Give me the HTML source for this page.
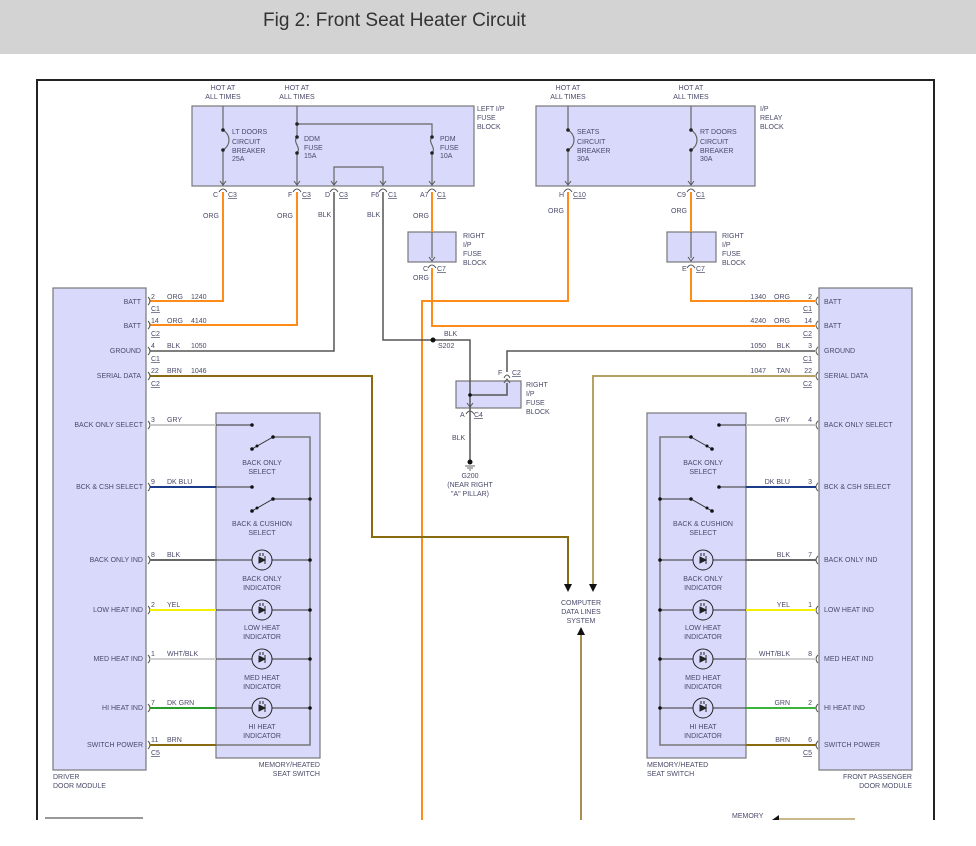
<!DOCTYPE html>
<html><head><meta charset="utf-8"><style>
html,body{margin:0;padding:0;background:#fff;}
svg{display:block}
text{font-family:"Liberation Sans",sans-serif;font-size:7px;fill:#4a4a6a;}
.t{font-family:"Liberation Sans",sans-serif;font-size:19px;fill:#333;}
</style></head><body>
<svg width="976" height="846" viewBox="0 0 976 846" xmlns="http://www.w3.org/2000/svg">
<rect x="0" y="0" width="976" height="54" fill="#d3d3d3"/>
<text x="263" y="26" class="t">Fig 2: Front Seat Heater Circuit</text>
<path d="M37 820 V80 H934 V820" fill="none" stroke="#222" stroke-width="2"/>

<g fill="#d9d9fb" stroke="#777" stroke-width="1.2">
<rect x="192" y="106" width="282" height="80"/>
<rect x="536" y="106" width="219" height="80"/>
<rect x="408" y="232" width="48" height="30"/>
<rect x="667" y="232" width="49" height="30"/>
<rect x="456" y="381" width="65" height="27"/>
<rect x="53" y="288" width="93" height="482"/>
<rect x="819" y="288" width="93" height="482"/>
<rect x="216" y="413" width="104" height="345"/>
<rect x="647" y="413" width="99" height="345"/>
</g>
<line x1="45" y1="818" x2="143" y2="818" stroke="#777" stroke-width="1.5"/>

<!-- hot at texts -->
<g text-anchor="middle">
<text x="223" y="90">HOT AT</text><text x="223" y="99">ALL TIMES</text>
<text x="297" y="90">HOT AT</text><text x="297" y="99">ALL TIMES</text>
<text x="568" y="90">HOT AT</text><text x="568" y="99">ALL TIMES</text>
<text x="691" y="90">HOT AT</text><text x="691" y="99">ALL TIMES</text>
</g>
<text x="477" y="111">LEFT I/P</text><text x="477" y="120">FUSE</text><text x="477" y="129">BLOCK</text>
<text x="760" y="111">I/P</text><text x="760" y="120">RELAY</text><text x="760" y="129">BLOCK</text>

<!-- internal gray wires -->
<g fill="none" stroke="#666" stroke-width="1.2">
<path d="M223 106 V130 M223 150 V184"/>
<path d="M223 130 C231 135 231 145 223 150"/>
<path d="M297 106 V137 M297 153 V184 M297 124 H432 V137 M432 153 V184"/>
<path d="M297 137 C292 142 302 148 297 153 M432 137 C427 142 437 148 432 153"/>
<path d="M334 184 V167 H383 V184"/>
<path d="M568 106 V130 M568 150 V184 M568 130 C576 135 576 145 568 150"/>
<path d="M691 106 V130 M691 150 V184 M691 130 C699 135 699 145 691 150"/>
<path d="M432 232 V258 M691 232 V258"/>
</g>
<g fill="#222">
<circle cx="223" cy="130" r="1.8"/><circle cx="223" cy="150" r="1.8"/>
<circle cx="297" cy="124" r="1.8"/><circle cx="297" cy="137" r="1.8"/><circle cx="297" cy="153" r="1.8"/>
<circle cx="432" cy="137" r="1.8"/><circle cx="432" cy="153" r="1.8"/>
<circle cx="568" cy="130" r="1.8"/><circle cx="568" cy="150" r="1.8"/>
<circle cx="691" cy="130" r="1.8"/><circle cx="691" cy="150" r="1.8"/>
</g>
<!-- fuse labels -->
<text x="232" y="134">LT DOORS</text><text x="232" y="144">CIRCUIT</text><text x="232" y="153">BREAKER</text><text x="232" y="161">25A</text>
<text x="304" y="141">DDM</text><text x="304" y="150">FUSE</text><text x="304" y="158">15A</text>
<text x="440" y="141">PDM</text><text x="440" y="150">FUSE</text><text x="440" y="158">10A</text>
<text x="577" y="134">SEATS</text><text x="577" y="144">CIRCUIT</text><text x="577" y="153">BREAKER</text><text x="577" y="161">30A</text>
<text x="700" y="134">RT DOORS</text><text x="700" y="144">CIRCUIT</text><text x="700" y="153">BREAKER</text><text x="700" y="161">30A</text>

<!-- connectors at block bottoms -->
<g fill="none" stroke="#555" stroke-width="1">
<path d="M220 181 L223 185 L226 181 M219 192 Q223 186 227 192"/>
<path d="M294 181 L297 185 L300 181 M293 192 Q297 186 301 192"/>
<path d="M331 181 L334 185 L337 181 M330 192 Q334 186 338 192"/>
<path d="M380 181 L383 185 L386 181 M379 192 Q383 186 387 192"/>
<path d="M429 181 L432 185 L435 181 M428 192 Q432 186 436 192"/>
<path d="M565 181 L568 185 L571 181 M564 192 Q568 186 572 192"/>
<path d="M688 181 L691 185 L694 181 M687 192 Q691 186 695 192"/>
<path d="M429 257 L432 261 L435 257 M428 268 Q432 262 436 268"/>
<path d="M688 257 L691 261 L694 257 M687 268 Q691 262 695 268"/>
<path d="M467 403 L470 407 L473 403 M466 414 Q470 408 474 414"/>
<path d="M504 378 Q507 372 510 378 M504 383 L507 379 L510 383"/>
</g>
<g>
<text x="213" y="197">C</text><text x="228" y="197" text-decoration="underline">C3</text>
<text x="288" y="197">F</text><text x="302" y="197" text-decoration="underline">C3</text>
<text x="325" y="197">D</text><text x="339" y="197" text-decoration="underline">C3</text>
<text x="371" y="197">F6</text><text x="388" y="197" text-decoration="underline">C1</text>
<text x="420" y="197">A7</text><text x="437" y="197" text-decoration="underline">C1</text>
<text x="559" y="197">H</text><text x="573" y="197" text-decoration="underline">C10</text>
<text x="677" y="197">C9</text><text x="696" y="197" text-decoration="underline">C1</text>
<text x="423" y="271">C</text><text x="437" y="271" text-decoration="underline">C7</text>
<text x="682" y="271">E</text><text x="696" y="271" text-decoration="underline">C7</text>
<text x="460" y="417">A</text><text x="474" y="417" text-decoration="underline">C4</text>
<text x="498" y="375">F</text><text x="512" y="375" text-decoration="underline">C2</text>
</g>
<text x="203" y="218">ORG</text><text x="277" y="218">ORG</text><text x="318" y="217">BLK</text><text x="367" y="217">BLK</text><text x="413" y="218">ORG</text>
<text x="548" y="213">ORG</text><text x="671" y="213">ORG</text><text x="413" y="280">ORG</text>
<text x="463" y="238">RIGHT</text><text x="463" y="247">I/P</text><text x="463" y="256">FUSE</text><text x="463" y="265">BLOCK</text>
<text x="722" y="238">RIGHT</text><text x="722" y="247">I/P</text><text x="722" y="256">FUSE</text><text x="722" y="265">BLOCK</text>
<text x="526" y="387">RIGHT</text><text x="526" y="396">I/P</text><text x="526" y="405">FUSE</text><text x="526" y="414">BLOCK</text>

<!-- orange wires -->
<g fill="none" stroke="#ff8c1a" stroke-width="2">
<path d="M223 192 V301 H150"/>
<path d="M297 192 V325 H150"/>
<path d="M432 192 V232 M432 268 V326 H815"/>
<path d="M568 192 V301 H422 V820"/>
<path d="M691 192 V232 M691 268 V301 H815"/>
</g>
<!-- black/gray wires -->
<g fill="none" stroke="#555" stroke-width="1.5">
<path d="M334 192 V351 H150"/>
<path d="M383 192 V340 H470 V462"/>
<path d="M470 395 H507 V383 M507 372 V351 H815"/>
</g>
<circle cx="433" cy="340" r="2.5" fill="#111"/>
<circle cx="470" cy="395" r="1.8" fill="#111"/>
<text x="444" y="336">BLK</text><text x="438" y="348">S202</text>
<text x="452" y="440">BLK</text>
<circle cx="470" cy="462" r="2.5" fill="#111"/>
<path d="M465 466 H475 M467 468 H473 M469 470 H471" stroke="#666" stroke-width="1"/>
<g text-anchor="middle"><text x="470" y="478">G200</text><text x="470" y="487">(NEAR RIGHT</text><text x="470" y="496">"A" PILLAR)</text></g>

<!-- serial data -->
<path d="M150 376 H372 V537 H568 V584" fill="none" stroke="#8a6a10" stroke-width="2"/>
<path d="M815 376 H593 V584" fill="none" stroke="#b8a064" stroke-width="2"/>
<path d="M564 584 H572 L568 592 Z M589 584 H597 L593 592 Z" fill="#111"/>
<path d="M577 635 H585 L581 627 Z" fill="#111"/>
<path d="M581 635 V820" stroke="#8a6a10" stroke-width="1.5"/>
<g text-anchor="middle"><text x="581" y="605">COMPUTER</text><text x="581" y="614">DATA LINES</text><text x="581" y="623">SYSTEM</text></g>

<!-- driver module labels -->
<g text-anchor="end">
<text x="141" y="304">BATT</text><text x="141" y="328">BATT</text><text x="141" y="353">GROUND</text><text x="141" y="378">SERIAL DATA</text>
<text x="143" y="427">BACK ONLY SELECT</text><text x="143" y="489">BCK &amp; CSH SELECT</text>
<text x="143" y="562">BACK ONLY IND</text><text x="143" y="612">LOW HEAT IND</text><text x="143" y="661">MED HEAT IND</text>
<text x="143" y="710">HI HEAT IND</text><text x="143" y="747">SWITCH POWER</text>
</g>
<text x="53" y="779">DRIVER</text><text x="53" y="788">DOOR MODULE</text>
<text x="320" y="767" text-anchor="end">MEMORY/HEATED</text><text x="320" y="776" text-anchor="end">SEAT SWITCH</text>
<text x="647" y="767">MEMORY/HEATED</text><text x="647" y="776">SEAT SWITCH</text>
<text x="912" y="779" text-anchor="end">FRONT PASSENGER</text><text x="912" y="788" text-anchor="end">DOOR MODULE</text>
<g>
<text x="824" y="304">BATT</text><text x="824" y="328">BATT</text><text x="824" y="353">GROUND</text><text x="824" y="378">SERIAL DATA</text>
<text x="824" y="427">BACK ONLY SELECT</text><text x="824" y="489">BCK &amp; CSH SELECT</text>
<text x="824" y="562">BACK ONLY IND</text><text x="824" y="612">LOW HEAT IND</text><text x="824" y="661">MED HEAT IND</text>
<text x="824" y="710">HI HEAT IND</text><text x="824" y="747">SWITCH POWER</text>
</g>

<!-- connector brackets driver -->
<g fill="none" stroke="#555" stroke-width="1">
<path d="M148 297 Q152 301 148 305 M148 321 Q152 325 148 329 M148 347 Q152 351 148 355 M148 372 Q152 376 148 380 M148 421 Q152 425 148 429 M148 483 Q152 487 148 491 M148 556 Q152 560 148 564 M148 606 Q152 610 148 614 M148 655 Q152 659 148 663 M148 704 Q152 708 148 712 M148 741 Q152 745 148 749"/>
<path d="M818 297 Q814 301 818 305 M818 321 Q814 325 818 329 M818 347 Q814 351 818 355 M818 372 Q814 376 818 380 M818 421 Q814 425 818 429 M818 483 Q814 487 818 491 M818 556 Q814 560 818 564 M818 606 Q814 610 818 614 M818 655 Q814 659 818 663 M818 704 Q814 708 818 712 M818 741 Q814 745 818 749"/>
</g>
<!-- driver wire labels -->
<g>
<text x="151" y="299">2</text><text x="167" y="299">ORG</text><text x="191" y="299">1240</text><text x="151" y="311" text-decoration="underline">C1</text>
<text x="151" y="323">14</text><text x="167" y="323">ORG</text><text x="191" y="323">4140</text><text x="151" y="336" text-decoration="underline">C2</text>
<text x="151" y="348">4</text><text x="167" y="348">BLK</text><text x="191" y="348">1050</text><text x="151" y="361" text-decoration="underline">C1</text>
<text x="151" y="373">22</text><text x="167" y="373">BRN</text><text x="191" y="373">1046</text><text x="151" y="386" text-decoration="underline">C2</text>
<text x="151" y="422">3</text><text x="167" y="422">GRY</text>
<text x="151" y="484">9</text><text x="167" y="484">DK BLU</text>
<text x="151" y="557">8</text><text x="167" y="557">BLK</text>
<text x="151" y="607">2</text><text x="167" y="607">YEL</text>
<text x="151" y="656">1</text><text x="167" y="656">WHT/BLK</text>
<text x="151" y="705">7</text><text x="167" y="705">DK GRN</text>
<text x="151" y="742">11</text><text x="167" y="742">BRN</text><text x="151" y="755" text-decoration="underline">C5</text>
</g>
<g text-anchor="end">
<text x="812" y="299">2</text><text x="790" y="299">ORG</text><text x="766" y="299">1340</text><text x="812" y="311" text-decoration="underline">C1</text>
<text x="812" y="323">14</text><text x="790" y="323">ORG</text><text x="766" y="323">4240</text><text x="812" y="336" text-decoration="underline">C2</text>
<text x="812" y="348">3</text><text x="790" y="348">BLK</text><text x="766" y="348">1050</text><text x="812" y="361" text-decoration="underline">C1</text>
<text x="812" y="373">22</text><text x="790" y="373">TAN</text><text x="766" y="373">1047</text><text x="812" y="386" text-decoration="underline">C2</text>
<text x="812" y="422">4</text><text x="790" y="422">GRY</text>
<text x="812" y="484">3</text><text x="790" y="484">DK BLU</text>
<text x="812" y="557">7</text><text x="790" y="557">BLK</text>
<text x="812" y="607">1</text><text x="790" y="607">YEL</text>
<text x="812" y="656">8</text><text x="790" y="656">WHT/BLK</text>
<text x="812" y="705">2</text><text x="790" y="705">GRN</text>
<text x="812" y="742">6</text><text x="790" y="742">BRN</text><text x="812" y="755" text-decoration="underline">C5</text>
</g>

<!-- colored wires to switches -->
<g fill="none" stroke-width="2">
<path d="M150 425 H216" stroke="#c8c8c8"/><path d="M746 425 H816" stroke="#c8c8c8"/>
<path d="M150 487 H216" stroke="#1a3a8a"/><path d="M746 487 H816" stroke="#1a3a8a"/>
<path d="M150 560 H216" stroke="#666"/><path d="M746 560 H816" stroke="#666"/>
<path d="M150 610 H216" stroke="#f5f000"/><path d="M746 610 H816" stroke="#f5f000"/>
<path d="M150 659 H216" stroke="#d0d0d0"/><path d="M746 659 H816" stroke="#d0d0d0"/>
<path d="M150 708 H216" stroke="#2a9a2a"/><path d="M746 708 H816" stroke="#3cb43c"/>
<path d="M150 745 H216" stroke="#8a6a10"/><path d="M746 745 H816" stroke="#8a6a10"/>
</g>

<!-- driver switch internals -->
<g fill="none" stroke="#333" stroke-width="1">
<path d="M216 425 H252 M252 449 L273 437 M216 487 H252 M252 511 L273 499 H310"/>
<path d="M273 437 H310 V745 H216" stroke="#777" stroke-width="1.5"/>
<path d="M216 560 H310 M216 610 H310 M216 659 H310 M216 708 H310"/>
</g>
<g fill="none" stroke="#333" stroke-width="1">
<path d="M746 425 H719 M712 449 L691 437 M746 487 H719 M712 511 L691 499 H660"/>
<path d="M691 437 H660 V745 H746" stroke="#777" stroke-width="1.5"/>
<path d="M660 560 H746 M660 610 H746 M660 659 H746 M660 708 H746"/>
</g>
<g fill="#111">
<circle cx="252" cy="425" r="1.8"/><circle cx="252" cy="449" r="1.8"/><circle cx="257" cy="446" r="1.5"/><circle cx="273" cy="437" r="1.8"/>
<circle cx="252" cy="487" r="1.8"/><circle cx="252" cy="511" r="1.8"/><circle cx="257" cy="508" r="1.5"/><circle cx="273" cy="499" r="1.8"/><circle cx="310" cy="499" r="1.8"/>
<circle cx="310" cy="560" r="1.8"/><circle cx="310" cy="610" r="1.8"/><circle cx="310" cy="659" r="1.8"/><circle cx="310" cy="708" r="1.8"/>
<circle cx="719" cy="425" r="1.8"/><circle cx="712" cy="449" r="1.8"/><circle cx="707" cy="446" r="1.5"/><circle cx="691" cy="437" r="1.8"/>
<circle cx="719" cy="487" r="1.8"/><circle cx="712" cy="511" r="1.8"/><circle cx="707" cy="508" r="1.5"/><circle cx="691" cy="499" r="1.8"/><circle cx="660" cy="499" r="1.8"/>
<circle cx="660" cy="560" r="1.8"/><circle cx="660" cy="610" r="1.8"/><circle cx="660" cy="659" r="1.8"/><circle cx="660" cy="708" r="1.8"/>
</g>
<!-- LEDs -->
<g fill="#d9d9fb" stroke="#222" stroke-width="1">
<circle cx="262" cy="560" r="10"/><circle cx="262" cy="610" r="10"/><circle cx="262" cy="659" r="10"/><circle cx="262" cy="708" r="10"/>
<circle cx="703" cy="560" r="10"/><circle cx="703" cy="610" r="10"/><circle cx="703" cy="659" r="10"/><circle cx="703" cy="708" r="10"/>
</g>
<g fill="#222" stroke="#222" stroke-width="1">
<path d="M259 557 L259 563 L265 560 Z M265 556 V564 M260 553 V556 M263 553 V556"/>
<path d="M259 607 L259 613 L265 610 Z M265 606 V614 M260 603 V606 M263 603 V606"/>
<path d="M259 656 L259 662 L265 659 Z M265 655 V663 M260 652 V655 M263 652 V655"/>
<path d="M259 705 L259 711 L265 708 Z M265 704 V712 M260 701 V704 M263 701 V704"/>
<path d="M700 557 L700 563 L706 560 Z M706 556 V564 M701 553 V556 M704 553 V556"/>
<path d="M700 607 L700 613 L706 610 Z M706 606 V614 M701 603 V606 M704 603 V606"/>
<path d="M700 656 L700 662 L706 659 Z M706 655 V663 M701 652 V655 M704 652 V655"/>
<path d="M700 705 L700 711 L706 708 Z M706 704 V712 M701 701 V704 M704 701 V704"/>
</g>
<g text-anchor="middle">
<text x="262" y="465">BACK ONLY</text><text x="262" y="474">SELECT</text>
<text x="262" y="526">BACK &amp; CUSHION</text><text x="262" y="535">SELECT</text>
<text x="262" y="581">BACK ONLY</text><text x="262" y="590">INDICATOR</text>
<text x="262" y="630">LOW HEAT</text><text x="262" y="639">INDICATOR</text>
<text x="262" y="680">MED HEAT</text><text x="262" y="689">INDICATOR</text>
<text x="262" y="729">HI HEAT</text><text x="262" y="738">INDICATOR</text>
<text x="703" y="465">BACK ONLY</text><text x="703" y="474">SELECT</text>
<text x="703" y="526">BACK &amp; CUSHION</text><text x="703" y="535">SELECT</text>
<text x="703" y="581">BACK ONLY</text><text x="703" y="590">INDICATOR</text>
<text x="703" y="630">LOW HEAT</text><text x="703" y="639">INDICATOR</text>
<text x="703" y="680">MED HEAT</text><text x="703" y="689">INDICATOR</text>
<text x="703" y="729">HI HEAT</text><text x="703" y="738">INDICATOR</text>
</g>
<text x="732" y="818">MEMORY</text>
<path d="M772 820 L779 815 L779 820 Z" fill="#111"/>
<path d="M779 819 H855" stroke="#b8a064" stroke-width="1.5"/>
</svg>
</body></html>
